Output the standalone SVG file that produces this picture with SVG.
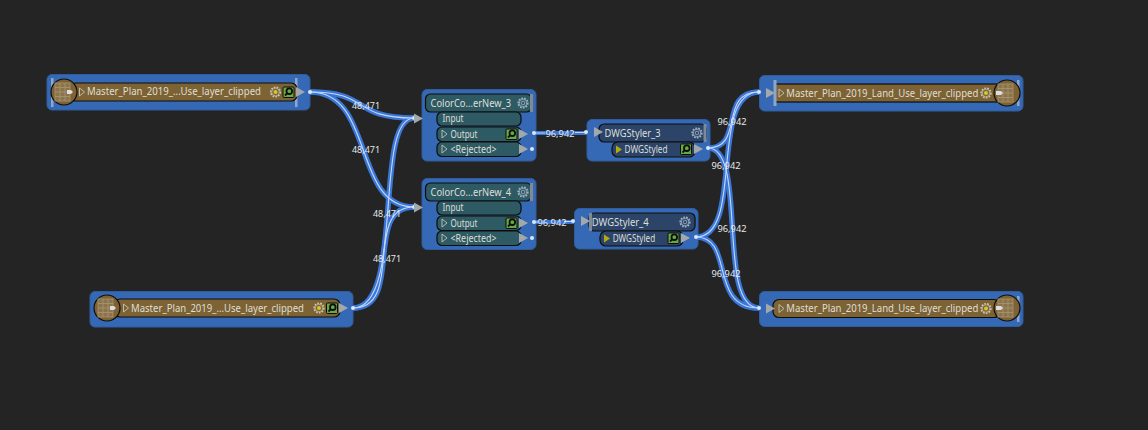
<svg xmlns="http://www.w3.org/2000/svg" width="1148" height="430" viewBox="0 0 1148 430">
<style>
text{font-family:"Noto Sans","Liberation Sans",sans-serif;font-size:10px;fill:#dedfd6}
.bg{fill:#3669b5;stroke:#2f5c9e;stroke-width:1}
.brown{fill:#7d6234;stroke:#0d0d0d;stroke-width:1.2}
.teal{fill:#2e5a64;stroke:#0d0d0d;stroke-width:1.2}
.navy{fill:#2b4468;stroke:#0d0d0d;stroke-width:1.2}
.disc{fill:#7d6234;stroke:#0d0d0d;stroke-width:1.2}
.grid{fill:#8b744c;stroke:#a8956e;stroke-width:.8}
.gl{fill:none;stroke:#a8956e;stroke-width:.8}
.gear{fill:none;stroke:#c9c6b8;stroke-width:1.6;stroke-dasharray:1.7 1.2}
.gearb{fill:none;stroke:#a4b4c6;stroke-width:1.6;stroke-dasharray:1.7 1.2}
.gi{fill:none;stroke:#c9c6b8;stroke-width:.7}
.gib{fill:none;stroke:#a4b4c6;stroke-width:.8}
.hub{fill:#d4c92a}
.mag{fill:#66ab42;stroke:#0d0d0d}
.lens{fill:none;stroke:#0d0d0d;stroke-width:1.8}
.tri{fill:none;stroke:#c4c4b8;stroke-width:.9}
.port{fill:#a3a8ad}
.bar{fill:#8fa6c8}
.side{fill:#7f8a94}
.dot{fill:#dbe6f6}
.wb{fill:none;stroke:#3a76d6;stroke-width:5.500}
.wc{fill:none;stroke:#c4d8f8;stroke-width:1.1}
.lab{font-size:9.500px;fill:#e4e8ec;text-anchor:middle}
.ylw{fill:#b6a80f}
</style>
<defs>
<g id="table"><circle r="13" class="disc"/><rect x="-9" y="-9" width="15" height="18" class="grid"/><path d="M-9-4.500H6M-9 0H6M-9 4.500H6M-4-9V9M1-9V9" class="gl"/></g>
<g id="gear"><circle r="4.800" class="gear"/><circle r="3.800" class="gi"/><circle r="2" class="hub"/></g>
<g id="gearb"><circle r="4.800" class="gearb"/><circle r="3.800" class="gib"/><circle r="1.800" class="gib"/></g>
<g id="mag"><rect x="-5.500" y="-5" width="11" height="10.500" rx="1" class="mag"/><circle cx=".8" cy="-.8" r="2.800" class="lens"/><path d="M-1.200 1.200-3.500 3.500" class="lens"/></g>
<path id="pt" d="M0-5V5L9 0Z" class="port"/>
<path id="open" d="M0-4V4L5 0Z" class="tri"/>
<path id="ylw" d="M0-4V4L6 0Z" class="ylw"/>
</defs>
<rect width="1148" height="430" fill="#242424"/>

<g id="node-reader-1">
<rect x="47" y="74.500" width="263" height="35.500" rx="5" class="bg"/>
<rect x="51" y="78" width="2.500" height="29" class="bar"/>
<rect x="295" y="78" width="2.500" height="29" class="bar"/>
<rect x="70" y="83" width="227" height="18" rx="6" class="brown"/>
<use href="#table" x="64" y="92"/><path d="M67 90h4l2 2-2 2h-4z" fill="#ddd"/>
<use href="#open" x="79.500" y="92"/>
<text x="87" y="95" textLength="174" lengthAdjust="spacingAndGlyphs">Master_Plan_2019_...Use_layer_clipped</text>
<use href="#gear" x="275.500" y="92"/>
<use href="#mag" x="288.500" y="92"/>
<use href="#pt" x="296" y="92"/>
</g>
<g id="node-reader-2">
<rect x="90" y="291.500" width="263" height="35.500" rx="5" class="bg"/>
<rect x="114" y="299" width="226" height="18" rx="6" class="brown"/>
<use href="#table" x="107" y="308"/><path d="M110 306h4l2 2-2 2h-4z" fill="#ddd"/>
<use href="#open" x="123.500" y="308"/>
<text x="131" y="312" textLength="173" lengthAdjust="spacingAndGlyphs">Master_Plan_2019_...Use_layer_clipped</text>
<use href="#gear" x="319" y="308"/>
<use href="#mag" x="332" y="308"/>
<use href="#pt" x="339" y="308"/>
</g>

<g id="node-colorcoder-3">
<rect x="422" y="89.500" width="114" height="71.500" rx="5" class="bg"/>
<rect x="425.500" y="94" width="106" height="18" rx="5" class="teal"/>
<rect x="530" y="94" width="3" height="18" class="side"/>
<text x="430.500" y="106.500" textLength="80.500" lengthAdjust="spacingAndGlyphs">ColorCo...erNew_3</text>
<use href="#gearb" x="523" y="103"/>
<rect x="437" y="112" width="84" height="14" rx="5" class="teal"/>
<rect x="437" y="127" width="84" height="14.500" rx="5" class="teal"/>
<rect x="437" y="142" width="84" height="14.500" rx="5" class="teal"/>
<text x="442.500" y="122" textLength="21" lengthAdjust="spacingAndGlyphs">Input</text>
<use href="#open" x="442" y="134"/><text x="450.500" y="137.500" textLength="27" lengthAdjust="spacingAndGlyphs">Output</text>
<use href="#open" x="442" y="149"/><text x="450.500" y="152.500" textLength="46" lengthAdjust="spacingAndGlyphs">&lt;Rejected&gt;</text>
<use href="#mag" x="511.500" y="134"/>
<use href="#pt" x="519" y="134"/><use href="#pt" x="519" y="149"/>
</g>
<g id="node-colorcoder-4">
<rect x="422" y="178.500" width="114" height="71" rx="5" class="bg"/>
<rect x="425.500" y="183" width="106" height="18" rx="5" class="teal"/>
<rect x="530" y="183" width="3" height="18" class="side"/>
<text x="430.500" y="195.500" textLength="80.500" lengthAdjust="spacingAndGlyphs">ColorCo...erNew_4</text>
<use href="#gearb" x="523" y="192"/>
<rect x="437" y="201" width="84" height="14" rx="5" class="teal"/>
<rect x="437" y="216" width="84" height="14.500" rx="5" class="teal"/>
<rect x="437" y="231" width="84" height="14.500" rx="5" class="teal"/>
<text x="442.500" y="211" textLength="21" lengthAdjust="spacingAndGlyphs">Input</text>
<use href="#open" x="442" y="223"/><text x="450.500" y="226.500" textLength="27" lengthAdjust="spacingAndGlyphs">Output</text>
<use href="#open" x="442" y="238"/><text x="450.500" y="241.500" textLength="46" lengthAdjust="spacingAndGlyphs">&lt;Rejected&gt;</text>
<use href="#mag" x="511.500" y="223"/>
<use href="#pt" x="519" y="223"/><use href="#pt" x="519" y="238"/>
</g>

<g id="node-dwgstyler-3">
<rect x="587" y="119.500" width="123" height="41.500" rx="5" class="bg"/>
<rect x="599" y="124" width="107" height="18" rx="5" class="navy"/>
<rect x="703.500" y="124" width="3" height="18" class="side"/>
<text x="604.500" y="136.500" textLength="56" lengthAdjust="spacingAndGlyphs">DWGStyler_3</text>
<use href="#gearb" x="697" y="133"/>
<rect x="612" y="142" width="83" height="15" rx="6" class="navy"/>
<use href="#ylw" x="616" y="149.500"/>
<text x="624.500" y="153" textLength="43" lengthAdjust="spacingAndGlyphs">DWGStyled</text>
<use href="#mag" x="686" y="149"/>
<use href="#pt" x="694" y="149"/>
</g>
<g id="node-dwgstyler-4">
<rect x="574.500" y="208.500" width="123.500" height="40.500" rx="5" class="bg"/>
<rect x="589" y="213" width="106" height="18" rx="5" class="navy"/>
<rect x="589" y="213" width="3" height="18" class="side"/>
<text x="591.700" y="225.500" textLength="57" lengthAdjust="spacingAndGlyphs">DWGStyler_4</text>
<use href="#gearb" x="685" y="222"/>
<rect x="600" y="231" width="83" height="15" rx="6" class="navy"/>
<use href="#ylw" x="604" y="238.500"/>
<text x="612.700" y="242" textLength="42.500" lengthAdjust="spacingAndGlyphs">DWGStyled</text>
<use href="#mag" x="673.500" y="238"/>
<use href="#pt" x="681" y="238"/>
</g>

<g id="node-writer-1">
<rect x="759.500" y="75.500" width="263.500" height="35.500" rx="5" class="bg"/>
<rect x="775" y="84" width="225" height="18" class="brown"/>
<rect x="773.500" y="80" width="3" height="26" class="bar"/>
<rect x="1017" y="80" width="2.500" height="26" class="bar"/>
<use href="#open" x="779" y="93"/>
<text x="786.300" y="96.500" textLength="192" lengthAdjust="spacingAndGlyphs">Master_Plan_2019_Land_Use_layer_clipped</text>
<use href="#gear" x="986" y="93"/>
<use href="#table" x="1007" y="93"/><path d="M996 91h5l2 2-2 2h-5z" fill="#ddd"/>
</g>
<g id="node-writer-2">
<rect x="759.500" y="291.500" width="263.500" height="35" rx="5" class="bg"/>
<rect x="773" y="299.500" width="227" height="18" rx="6" class="brown"/>
<rect x="1017" y="296" width="2.500" height="26" class="bar"/>
<use href="#open" x="779" y="308.500"/>
<text x="786.300" y="312" textLength="192" lengthAdjust="spacingAndGlyphs">Master_Plan_2019_Land_Use_layer_clipped</text>
<use href="#gear" x="986" y="308.500"/>
<use href="#table" x="1007" y="308"/><path d="M996 306h5l2 2-2 2h-5z" fill="#ddd"/>
</g>

<g id="connectors">
<path d="M310 92C372 92 350 118 414 118" class="wb"/>
<path d="M310 92C375 92 352 207 414 207" class="wb"/>
<path d="M353 308C405 308 373 118 414 118" class="wb"/>
<path d="M353 308C405 308 362 207 414 207" class="wb"/>
<path d="M534 133H587" class="wb" style="stroke-width:4"/>
<path d="M534 222H574" class="wb" style="stroke-width:4"/>
<path d="M708 148C745 148 718 92 759 92" class="wb"/>
<path d="M708 148C748 148 716 308 759 308" class="wb"/>
<path d="M696 237C745 237 708 92 759 92" class="wb"/>
<path d="M696 237C735 237 708 308 759 308" class="wb"/>
<path d="M310 92C372 92 350 118 414 118" class="wc"/>
<path d="M310 92C375 92 352 207 414 207" class="wc"/>
<path d="M353 308C405 308 373 118 414 118" class="wc"/>
<path d="M353 308C405 308 362 207 414 207" class="wc"/>
<path d="M534 133H545M575 132.500H587" class="wc"/>
<path d="M534 222H538M564 221.500H574" class="wc"/>
<path d="M708 148C745 148 718 92 759 92" class="wc"/>
<path d="M708 148C748 148 716 308 759 308" class="wc"/>
<path d="M696 237C745 237 708 92 759 92" class="wc"/>
<path d="M696 237C735 237 708 308 759 308" class="wc"/>
<g class="dot">
<circle cx="310" cy="92" r="2"/><circle cx="353" cy="308" r="2"/>
<circle cx="414" cy="118" r="2"/><circle cx="414" cy="207" r="2"/>
<circle cx="534" cy="133" r="2"/><circle cx="532" cy="149" r="2"/>
<circle cx="534" cy="222" r="2"/><circle cx="532" cy="238" r="2"/>
<circle cx="586" cy="132" r="2"/><circle cx="573" cy="221" r="2"/>
<circle cx="708" cy="148" r="2"/><circle cx="696" cy="237" r="2"/>
<circle cx="759" cy="92" r="2"/><circle cx="759" cy="308" r="2"/>
</g>
<use href="#pt" x="414" y="118.500"/><use href="#pt" x="414" y="207.500"/>
<use href="#pt" x="594" y="132"/><use href="#pt" x="581" y="221"/>
<use href="#pt" x="766" y="93"/><use href="#pt" x="766" y="308.500"/>
<text class="lab" x="366" y="108.500" textLength="28" lengthAdjust="spacingAndGlyphs">48,471</text>
<text class="lab" x="366" y="152.500" textLength="28" lengthAdjust="spacingAndGlyphs">48,471</text>
<text class="lab" x="387" y="216.500" textLength="28" lengthAdjust="spacingAndGlyphs">48,471</text>
<text class="lab" x="387" y="261.500" textLength="28" lengthAdjust="spacingAndGlyphs">48,471</text>
<text class="lab" x="560" y="136.500" textLength="29" lengthAdjust="spacingAndGlyphs">96,942</text>
<text class="lab" x="552" y="225.500" textLength="29" lengthAdjust="spacingAndGlyphs">96,942</text>
<text class="lab" x="732" y="124.500" textLength="29" lengthAdjust="spacingAndGlyphs">96,942</text>
<text class="lab" x="726" y="169" textLength="29" lengthAdjust="spacingAndGlyphs">96,942</text>
<text class="lab" x="732" y="232" textLength="29" lengthAdjust="spacingAndGlyphs">96,942</text>
<text class="lab" x="726" y="277" textLength="29" lengthAdjust="spacingAndGlyphs">96,942</text>
</g>
</svg>
